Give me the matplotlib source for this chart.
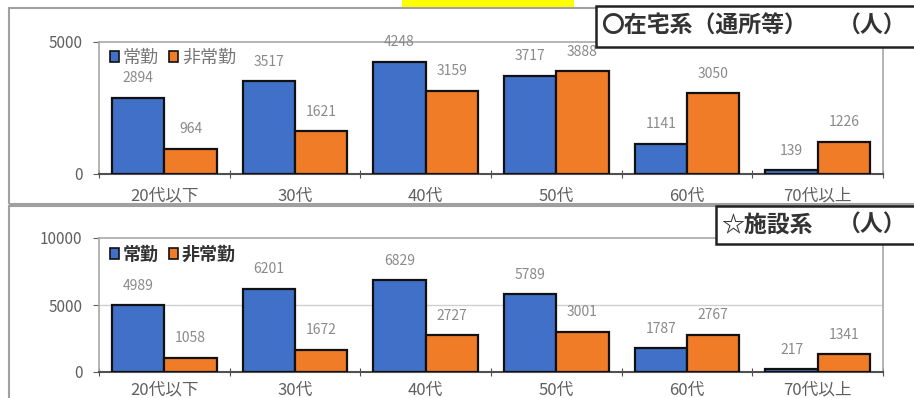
import matplotlib
matplotlib.use("Agg")
import matplotlib.pyplot as plt
import numpy as np
from matplotlib.patches import Rectangle, Patch

plt.rcParams["font.family"] = ["Noto Sans CJK JP", "DejaVu Sans"]

# データ
cats = ["20代以下", "30代", "40代", "50代", "60代", "70代以上"]
zaitaku_jokin = [2894, 3517, 4248, 3717, 1141, 139]
zaitaku_hijokin = [964, 1621, 3159, 3888, 3050, 1226]
shisetsu_jokin = [4989, 6201, 6829, 5789, 1787, 217]
shisetsu_hijokin = [1058, 1672, 2727, 3001, 2767, 1341]
labels = ["常勤", "非常勤"]
titles = ["〇在宅系（通所等）", "☆施設系"]
unit = "（人）"

W, H = 914, 398
blue = "#4070c8"
orange = "#f07c28"

fig = plt.figure(figsize=(W / 100, H / 100), dpi=100)

def fx(px):
    return px / W

def fy(py):
    return 1 - py / H

# パネル枠 / 黄色
fig.patches.append(Rectangle((fx(9), fy(204)), fx(920) - fx(9), fy(8) - fy(204),
                             transform=fig.transFigure, fill=False, ec="#a0a0a0", lw=1.5))
fig.patches.append(Rectangle((fx(9), fy(410)), fx(920) - fx(9), fy(206) - fy(410),
                             transform=fig.transFigure, fill=False, ec="#a0a0a0", lw=1.5))
fig.patches.append(Rectangle((fx(402), fy(7)), fx(574) - fx(402), fy(0) - fy(7),
                             transform=fig.transFigure, fc="#ffff00", ec="none"))


def panel(top, bottom, ymax, yticks, jokin, hijokin, title, box, leg_dark, xoff):
    ax = fig.add_axes([fx(99), fy(bottom), fx(883) - fx(99), fy(top) - fy(bottom)])
    x = np.arange(len(cats))
    w = 0.4
    b1 = ax.bar(x - w / 2, jokin, w, color=blue, edgecolor="#111111", lw=1.6, zorder=3)
    b2 = ax.bar(x + w / 2, hijokin, w, color=orange, edgecolor="#111111", lw=1.6, zorder=3)
    for bars, vals in [(b1, jokin), (b2, hijokin)]:
        for r, v in zip(bars, vals):
            ax.annotate(str(v), (r.get_x() + r.get_width() / 2, v), xytext=(0, 9),
                        textcoords="offset points", ha="center", va="bottom",
                        fontsize=10, color="#8a8a8a")
    ax.set_xlim(-0.5, len(cats) - 0.5)
    ax.set_ylim(0, ymax)
    ax.set_yticks(yticks)
    ax.set_yticklabels([str(t) for t in yticks], fontsize=11, color="#606060")
    ax.tick_params(axis="y", length=4, color="#606060", pad=8)
    ax.set_xticks(np.arange(-0.5, len(cats), 1.0))
    ax.set_xticklabels([])
    ax.tick_params(axis="x", direction="inout", length=6, color="#505050")
    for i, c in enumerate(cats):
        ax.annotate(c, (i, 0), xytext=(0, xoff), textcoords="offset points",
                    ha="center", va="top", fontsize=12, color="#606060",
                    annotation_clip=False)
    for s in ["top", "right", "left"]:
        ax.spines[s].set_color("#a8a8a8")
        ax.spines[s].set_linewidth(1.2)
    ax.spines["bottom"].set_color("#505050")
    ax.spines["bottom"].set_linewidth(1.5)
    for t in yticks[1:-1]:
        ax.axhline(t, color="#d0d0d0", lw=1, zorder=1)
    handles = [Patch(fc=blue, ec="#111111", lw=1.2), Patch(fc=orange, ec="#111111", lw=1.2)]
    leg = ax.legend(handles, labels, loc="upper left", bbox_to_anchor=(0.0, 1.03),
                    frameon=False, fontsize=13, handlelength=0.5, handleheight=0.5,
                    handletextpad=0.2, columnspacing=0.6, ncol=2, borderaxespad=0.2)
    for t in leg.get_texts():
        t.set_color("#333333" if leg_dark else "#777777")
        if leg_dark:
            t.set_fontweight("bold")
    # タイトル枠
    x0, y0, x1, y1 = box
    fig.patches.append(Rectangle((fx(x0), fy(y1)), fx(x1) - fx(x0), fy(y0) - fy(y1),
                                 transform=fig.transFigure, fc="white", ec="#222222",
                                 lw=1.8, zorder=10))
    fig.text(fx(x0 + 5), fy((y0 + y1) / 2), title, ha="left", va="center",
             fontsize=16.5, fontweight="bold", color="#333333", zorder=11)
    fig.text(fx(906), fy((y0 + y1) / 2), unit, ha="right", va="center",
             fontsize=16.5, fontweight="bold", color="#333333", zorder=11)
    return ax


panel(42, 174, 5000, [0, 5000], zaitaku_jokin, zaitaku_hijokin, titles[0],
      (596, 6, 920, 47), False, -10)
panel(238, 372, 10000, [0, 5000, 10000], shisetsu_jokin, shisetsu_hijokin, titles[1],
      (716, 206, 920, 244), True, -7)

fig.savefig("out.png", dpi=100)
